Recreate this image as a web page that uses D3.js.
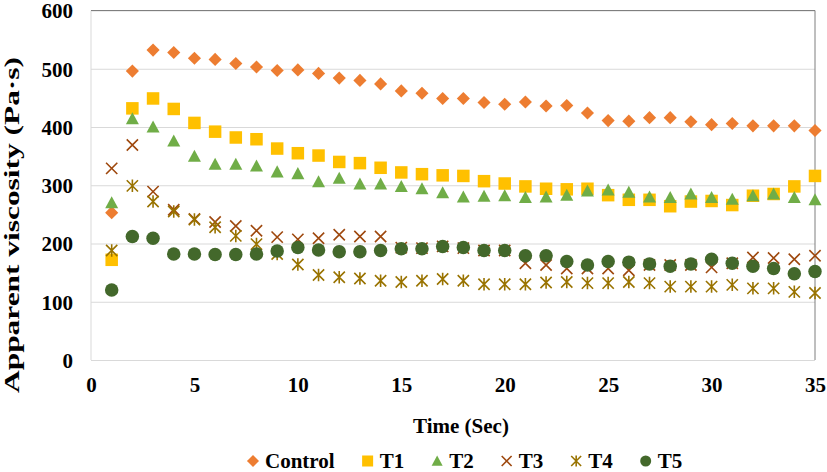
<!DOCTYPE html>
<html>
<head>
<meta charset="utf-8">
<script src="https://cdn.jsdelivr.net/npm/d3@7"></script>
<style>
  html, body { margin: 0; padding: 0; background: #fff; }
  svg { display: block; }
  svg text { font-family: "Liberation Serif", "Times New Roman", Tinos, Times, serif; font-weight: 700; fill: #000; }
</style>
</head>
<body>
<svg id="chart" width="827" height="472"></svg>
<script>
// ---- data ----
const time = [1,2,3,4,5,6,7,8,9,10,11,12,13,14,15,16,17,18,19,20,21,22,23,24,25,26,27,28,29,30,31,32,33,34,35];
const control = [253,496,532,528,518,516,509,503,497,498,492,484,480,474,462,458,449,449,442,439,443,436,437,424,411,410,416,416,409,404,406,402,402,402,394];
const t1 = [172,432,449,431,407,392,382,379,363,355,351,340,338,330,322,319,317,316,307,303,298,294,293,294,283,275,275,264,272,273,266,282,285,298,316];
const t2 = [270,414,400,376,350,336,336,333,323,320,306,312,302,302,298,294,287,280,281,282,279,280,283,290,292,288,280,279,285,279,276,282,285,279,275];
const t3 = [329,369,289,258,242,237,230,222,211,207,209,215,212,212,193,192,195,192,188,188,166,163,157,157,157,154,163,163,163,159,166,176,175,173,179];
const t4 = [188,299,272,255,241,228,213,199,182,164,146,142,140,136,134,136,139,136,130,130,130,133,134,132,132,134,132,126,126,126,129,123,123,117,115];
const t5 = [120,212,209,182,182,181,181,182,187,193,189,186,186,188,191,191,195,193,188,188,179,179,169,163,169,168,165,161,165,173,166,161,157,148,152];
const seriesNames = ["Control","T1","T2","T3","T4","T5"];
const xTicks = [0,5,10,15,20,25,30,35];
const yTicks = [0,100,200,300,400,500,600];
const xTitle = "Time (Sec)";
const yTitle = "Apparent viscosity (Pa·s)";

// ---- styling ----
const seriesValues = [control, t1, t2, t3, t4, t5];
const colors = ["#ED7D31","#FFC000","#70AD47","#9E480E","#997300","#43682B"];
const shapes = ["diamond","square","triangle","x","asterisk","circle"];

(function () {
const svg = d3.select("#chart");
const pL = 91, pR = 815, pT = 10.5, pB = 360;
const x = d3.scaleLinear().domain([0, 35]).range([pL, pR]);
const y = d3.scaleLinear().domain([0, 600]).range([pB, pT]);

// gridlines
const grid = svg.append("g").attr("transform", `translate(${pL},0)`)
  .call(d3.axisLeft(y).tickValues(yTicks).tickSize(-(pR - pL)).tickFormat(""));
grid.select(".domain").remove();
grid.selectAll(".tick line").attr("stroke", "#D9D9D9").attr("stroke-width", 1);
svg.append("line").attr("x1", pL).attr("x2", pL).attr("y1", pT).attr("y2", pB)
  .attr("stroke", "#D9D9D9").attr("stroke-width", 1);
svg.append("line").attr("x1", pL).attr("x2", pR).attr("y1", y(600)).attr("y2", y(600))
  .attr("stroke", "#7F7F7F").attr("stroke-width", 1);
svg.append("line").attr("x1", pR).attr("x2", pR).attr("y1", pT).attr("y2", pB)
  .attr("stroke", "#7F7F7F").attr("stroke-width", 1);

// y axis labels
const yAxis = svg.append("g").attr("transform", `translate(${pL - 18},0)`)
  .call(d3.axisLeft(y).tickValues(yTicks).tickSize(0).tickPadding(0));
yAxis.select(".domain").remove();
yAxis.attr("font-family", null).attr("font-size", null);
yAxis.selectAll("text").style("font-size", "21px").attr("fill", "#000").attr("dy", "0.35em");

// x axis labels
const xAxis = svg.append("g").attr("transform", `translate(0,${pB})`)
  .call(d3.axisBottom(x).tickValues(xTicks).tickSize(0).tickPadding(0));
xAxis.select(".domain").remove();
xAxis.attr("font-family", null).attr("font-size", null);
xAxis.selectAll("text").style("font-size", "21px").attr("fill", "#000").attr("dy", null).attr("y", 32);

// titles
svg.append("text").attr("x", 461).attr("y", 433).attr("text-anchor", "middle")
  .style("font-size", "21px").text(xTitle);
svg.append("text").attr("transform", "translate(19,225) rotate(-90)")
  .attr("text-anchor", "middle").style("font-size", "21px")
  .attr("textLength", 336).attr("lengthAdjust", "spacingAndGlyphs").text(yTitle);

function drawMarker(g, shape, color, s) {
  const h = s / 2;
  if (shape === "diamond") {
    g.append("path").attr("d", `M0,${-h*1.05}L${h*1.05},0L0,${h*1.05}L${-h*1.05},0Z`).attr("fill", color);
  } else if (shape === "square") {
    g.append("rect").attr("x", -h).attr("y", -h).attr("width", s).attr("height", s).attr("fill", color);
  } else if (shape === "triangle") {
    g.append("path").attr("d", `M0,${-h}L${h},${h*0.85}L${-h},${h*0.85}Z`).attr("fill", color);
  } else if (shape === "circle") {
    g.append("circle").attr("r", h).attr("fill", color);
  } else if (shape === "x") {
    const k = h * 0.9;
    g.append("path").attr("d", `M${-k},${-k}L${k},${k}M${k},${-k}L${-k},${k}`)
      .attr("stroke", color).attr("stroke-width", 1.6).attr("fill", "none");
  } else if (shape === "asterisk") {
    const k = h * 0.9;
    g.append("path").attr("d", `M${-k},${-k}L${k},${k}M${k},${-k}L${-k},${k}M0,${-h}L0,${h}`)
      .attr("stroke", color).attr("stroke-width", 1.6).attr("fill", "none");
  }
}

const sizes = {diamond: 12.5, square: 12.5, triangle: 13, circle: 13.5, x: 12.5, asterisk: 12.5};

seriesValues.forEach((vals, si) => {
  const g = svg.append("g").attr("class", "series-" + seriesNames[si]);
  g.selectAll("g.pt").data(vals.map((v, i) => ({t: time[i], v})))
    .enter().append("g").attr("class", "pt")
    .attr("transform", d => `translate(${x(d.t)},${y(d.v)})`)
    .each(function() { drawMarker(d3.select(this), shapes[si], colors[si], sizes[shapes[si]]); });
});

// legend
const legend = svg.append("g");
let lx = 253;
const ly = 461;
seriesNames.forEach((name, i) => {
  const mg = legend.append("g").attr("transform", `translate(${lx},${ly})`);
  drawMarker(mg, shapes[i], colors[i], shapes[i] === "diamond" ? 11.5 : 11);
  const t = legend.append("text").attr("x", lx + 12).attr("y", ly + 7)
    .style("font-size", "21px").text(name);
  const w = t.node().getComputedTextLength();
  lx = lx + 12 + w + 33;
});
})();
</script>
</body>
</html>
